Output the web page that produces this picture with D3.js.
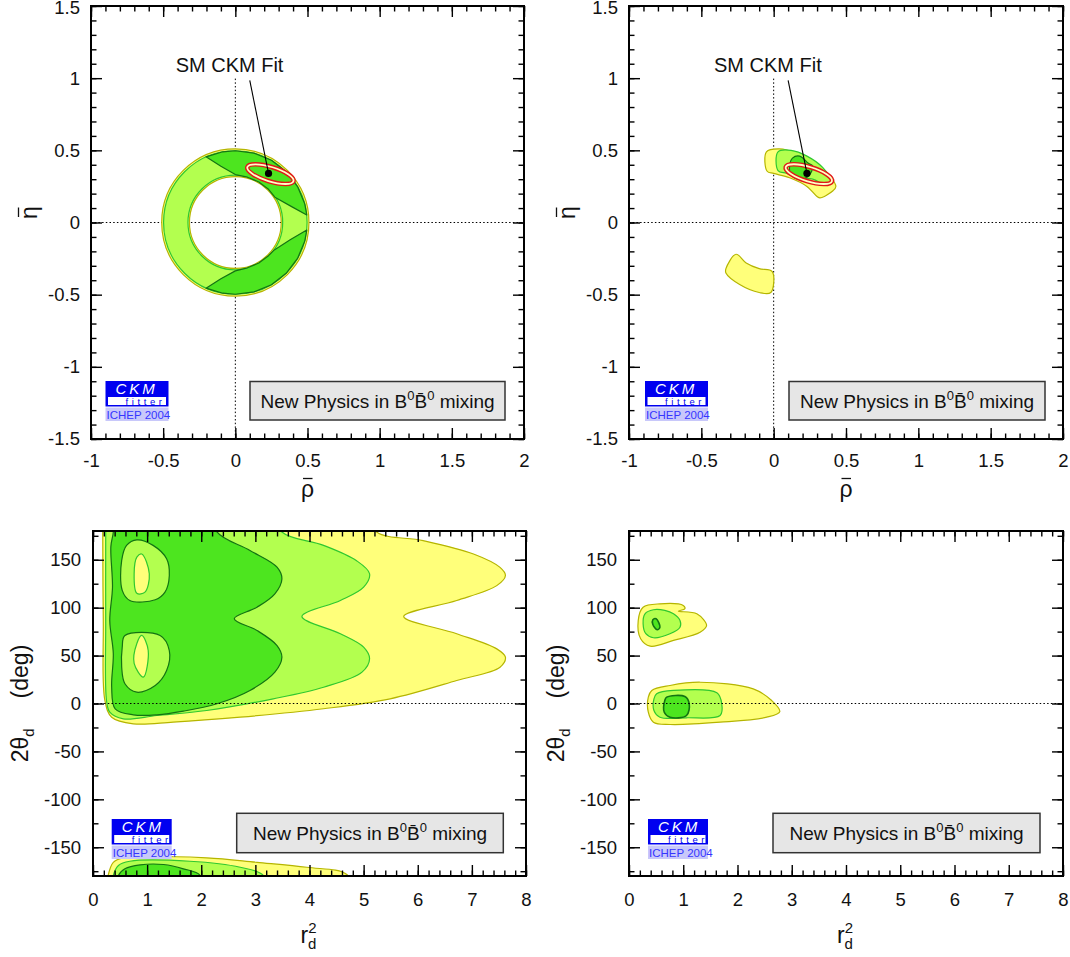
<!DOCTYPE html>
<html>
<head>
<meta charset="utf-8">
<script src="https://cdn.jsdelivr.net/npm/d3@7"></script>
<style>
    body { margin: 0; background: #fff; }
    svg text { font-family: "Liberation Sans", Arial, Helvetica, sans-serif; }
</style>
</head>
<body>
<div id="chart"></div>
<script>
// ---------------------------------- data ------------------------------------
const rhoTicks = [-1, -0.5, 0, 0.5, 1, 1.5, 2];
const etaTicks = [-1.5, -1, -0.5, 0, 0.5, 1, 1.5];
const r2Ticks = [0, 1, 2, 3, 4, 5, 6, 7, 8];
const thetaTicks = [-150, -100, -50, 0, 50, 100, 150];

// SM fit point, its 1/2 sigma ellipse and the label
const smFitPoint = [0.23, 0.34];
const smFitEllipse = {rho: 0.243, eta: 0.335, a: 0.167, b: 0.05, angle: 17};
const smLabelPos = [-0.04, 1.046];
const smLineStart = [0.10, 0.985];

// top left: rho-eta, ring from |Vub/Vcb| + dm
const ringYellow = {inner: 0.318, outer: 0.51};
const ringLightGreen = {inner: 0.328, outer: 0.497};
const ringUpperDark = [
    [-0.203, 0.455], [-0.087, 0.49], [0, 0.497], [0.129, 0.481], [0.25, 0.431], [0.352, 0.352],
    [0.431, 0.249], [0.481, 0.129], [0.495, 0.052], [0.39, 0.11], [0.274, 0.175], [0.230, 0.230],
    [0.1625, 0.281], [0.084, 0.314], [0, 0.332], [-0.1, 0.39]
];
const ringLowerDark = [
    [0.495, -0.052], [0.481, -0.129], [0.431, -0.249], [0.352, -0.352], [0.25, -0.431], [0.129, -0.481],
    [0, -0.497], [-0.087, -0.49], [-0.203, -0.455], [-0.1, -0.39], [0, -0.335], [0.084, -0.314],
    [0.1625, -0.281], [0.23, -0.23], [0.27, -0.19], [0.38, -0.12]
];

// top right: rho-eta with all constraints
const trUpperYellow = [
    [-0.05, 0.49], [0.04, 0.51], [0.157, 0.48], [0.30, 0.40], [0.39, 0.32], [0.43, 0.25], [0.41, 0.22],
    [0.32, 0.17], [0.30, 0.18], [0.23, 0.25], [0.11, 0.31], [0.0, 0.34], [-0.045, 0.355]
];
const trUpperLight = [
    [0.03, 0.49], [0.12, 0.50], [0.23, 0.46], [0.34, 0.38], [0.40, 0.28], [0.365, 0.26], [0.27, 0.30],
    [0.18, 0.31], [0.09, 0.34], [0.03, 0.36]
];
const trUpperDark = [
    [0.13, 0.446], [0.18, 0.46], [0.24, 0.41], [0.27, 0.39], [0.24, 0.32], [0.18, 0.30], [0.12, 0.33], [0.11, 0.39]
];
const trLowerYellow = [
    [-0.26, -0.22], [-0.19, -0.28], [-0.10, -0.32], [-0.01, -0.34], [-0.02, -0.485], [-0.10, -0.485],
    [-0.235, -0.43], [-0.33, -0.35], [-0.33, -0.32]
];

// bottom left: r_d^2 vs 2theta_d, ring constraint only
const blYellow = [
    [5.24, 179], [6.1, 170], [7.03, 156], [7.52, 142], [7.62, 133.6], [7.46, 123], [6.72, 107.5], [5.74, 90.8],
    [6.72, 72.8], [7.46, 57], [7.62, 48.3], [7.52, 37.9], [6.72, 24], [5.49, 4.9], [4.26, -5.5], [2.72, -14.3],
    [1.48, -19.5], [0.745, -21.2], [0.345, -14.3], [0.22, 3.1], [0.19, 86.6], [0.18, 179], [0.18, 205], [5.0, 205]
];
const blLight = [
    [3.49, 179], [4.26, 165], [4.87, 149], [5.11, 135.4], [5.0, 121.4], [4.57, 107.5], [3.86, 90.8], [4.57, 72.8],
    [5.0, 58.8], [5.11, 46.7], [4.97, 32.7], [4.26, 17], [3.33, 4.9], [2.10, -7.3], [1.18, -12.5], [0.56, -16],
    [0.31, -9.1], [0.25, 3.1], [0.235, 86.6], [0.235, 179], [0.235, 205], [3.3, 205]
];
const blDark = [
    [2.29, 179], [2.90, 159.7], [3.40, 142.3], [3.49, 130], [3.36, 114.5], [3.03, 100.5], [2.61, 88.4],
    [3.03, 76.2], [3.40, 60.5], [3.49, 48.3], [3.36, 32.7], [2.90, 13.6], [2.29, -0.3], [1.67, -8],
    [1.18, -11.8], [0.745, -11.8], [0.41, -5.5], [0.345, 17], [0.375, 51.9], [0.31, 86.6], [0.36, 121.4],
    [0.33, 163.7], [0.375, 179], [0.375, 205], [2.2, 205]
];
const blIslandUpper = [
    [0.81, 170.7], [1.11, 165], [1.36, 151], [1.41, 133.6], [1.33, 116.2], [1.15, 108.2], [0.68, 107.5],
    [0.54, 118], [0.53, 149.3], [0.62, 165]
];
const blIslandLower = [
    [0.59, 71], [1.24, 71], [1.41, 55.3], [1.36, 34.4], [1.15, 18.8], [0.81, 11.8], [0.59, 20.6], [0.53, 38], [0.54, 58.8]
];
const blCoreUpper = [[0.90, 156], [1.04, 135.4], [0.96, 116.2], [0.81, 115], [0.76, 135.4], [0.81, 152.7]];
const blCoreLower = [[0.90, 71], [1.02, 55.3], [0.93, 27.5], [0.76, 41.8], [0.81, 62.6]];
const blWrapYellow = [
    [0.28, -179.5], [0.375, -165.7], [0.56, -161], [2.10, -161], [3.03, -165.7], [3.95, -170.9], [4.69, -178.5],
    [4.8, -200], [0.25, -200]
];
const blWrapLight = [
    [0.375, -179.5], [0.47, -169], [0.68, -164.6], [1.79, -164.6], [2.72, -170.9], [3.15, -179.5], [3.2, -200], [0.35, -200]
];
const blWrapDark = [
    [0.47, -179.5], [0.59, -172.5], [0.87, -168.4], [1.30, -168], [1.67, -172.5], [1.98, -179.5], [2.0, -200], [0.45, -200]
];

// bottom right: r_d^2 vs 2theta_d with all constraints
const brUpperYellow = [
    [0.26, 100.5], [0.57, 104], [1.0, 102.3], [1.03, 98.8], [0.91, 96.4], [1.25, 93.6], [1.43, 81.4],
    [1.31, 74.4], [0.82, 65.8], [0.39, 59.8], [0.215, 67.5], [0.17, 86.6]
];
const brUpperLight = [
    [0.295, 93.6], [0.45, 97.8], [0.66, 97.1], [0.82, 93.6], [0.94, 86.6], [0.94, 79.6], [0.755, 72.8],
    [0.45, 68.6], [0.31, 72.8], [0.26, 83.2]
];
const brUpperDark = [[0.44, 87.4], [0.50, 88.4], [0.57, 79.6], [0.52, 76.9], [0.44, 82.5]];
const brLowerYellow = [
    [0.42, 13.6], [0.756, 18.8], [1.31, 22.2], [2.29, 15.3], [2.63, 3.1], [2.78, -8.4], [2.54, -14.3],
    [1.68, -19.5], [0.756, -21.9], [0.45, -19.5], [0.356, -9.1], [0.356, 6.6]
];
const brLowerLight = [
    [0.51, 10.1], [0.82, 13.6], [1.62, 11.2], [1.71, -0.3], [1.68, -12.5], [1.06, -14.9], [0.57, -14.3],
    [0.46, -7.3], [0.46, 4.9]
];
const brLowerDark = [
    [0.695, 6.6], [1.03, 7.3], [1.11, -0.3], [1.06, -12.5], [0.756, -14.3], [0.65, -9.1], [0.66, 3.1]
];

// ---------------------------------- style ------------------------------------
const COL = {
    yellowFill: "#ffff7a", yellowLine: "#b5b500",
    lightFill: "#b3ff4f", lightLine: "#2fc82f",
    darkFill: "#4de51f", darkLine: "#137313"
};
const TICK_FONT = 18.5;
const TITLE_FONT = 23;

const svg = d3.select("#chart")
    .append("svg")
    .attr("width", 1070)
    .attr("height", 957);

const smooth = d3.curveCatmullRomClosed.alpha(0.5);

function createPanel(id, left, top, width, height, xDomain, yDomain) {
    const x = d3.scaleLinear().domain(xDomain).range([0, width]);
    const y = d3.scaleLinear().domain(yDomain).range([height, 0]);
    const g = svg.append("g").attr("transform", `translate(${left},${top})`);
    g.append("clipPath").attr("id", id)
        .append("rect").attr("width", width).attr("height", height);
    const back = g.append("g");
    const plot = g.append("g").attr("clip-path", `url(#${id})`);
    return {g, back, plot, x, y, width, height, top};
}

function region(p, pts, fill, stroke, sw = 1.2, curve = smooth) {
    const line = d3.line().x(d => p.x(d[0])).y(d => p.y(d[1])).curve(curve);
    p.plot.append("path")
        .datum(pts)
        .attr("d", line)
        .attr("fill", fill)
        .attr("stroke", stroke)
        .attr("stroke-width", sw)
        .attr("stroke-linejoin", "round");
}

function dottedLines(p, layer, vertical, vTop) {
    const [x0, x1] = p.x.domain();
    const [y0] = p.y.domain();
    layer.append("line")
        .attr("x1", p.x(x0)).attr("x2", p.x(x1))
        .attr("y1", p.y(0)).attr("y2", p.y(0))
        .attr("stroke", "#000").attr("stroke-width", 1).attr("stroke-dasharray", "1.5,2.2");
    if (vertical) {
        layer.append("line")
            .attr("x1", p.x(0)).attr("x2", p.x(0))
            .attr("y1", p.y(y0)).attr("y2", p.y(vTop))
            .attr("stroke", "#000").attr("stroke-width", 1).attr("stroke-dasharray", "1.5,2.2");
    }
}

function styleAxis(sel) {
    sel.select(".domain").remove();
    sel.selectAll(".tick line").attr("stroke", "#000").attr("stroke-width", 1.4);
    sel.selectAll("text")
        .attr("fill", "#111")
        .style("font-size", TICK_FONT + "px")
        .style("font-family", "\"Liberation Sans\", Arial, sans-serif");
}

function drawAxes(p, xMajor, xMinor, yMajor, yMinor, xPad, yPad) {
    const fmt = d => String(d);
    const {g, x, y, width, height} = p;
    // bottom
    g.append("g").attr("transform", `translate(0,${height})`)
        .call(d3.axisBottom(x).tickValues(xMinor).tickSize(-5.5).tickFormat(""))
        .call(styleAxis);
    g.append("g").attr("transform", `translate(0,${height})`)
        .call(d3.axisBottom(x).tickValues(xMajor).tickSize(-11).tickPadding(xPad).tickFormat(fmt))
        .call(styleAxis);
    // top
    g.append("g")
        .call(d3.axisTop(x).tickValues(xMinor).tickSize(-5.5).tickFormat(""))
        .call(styleAxis);
    g.append("g")
        .call(d3.axisTop(x).tickValues(xMajor).tickSize(-11).tickFormat(""))
        .call(styleAxis);
    // left
    g.append("g")
        .call(d3.axisLeft(y).tickValues(yMinor).tickSize(-5.5).tickFormat(""))
        .call(styleAxis);
    const yAxis = g.append("g")
        .call(d3.axisLeft(y).tickValues(yMajor).tickSize(-11).tickPadding(yPad).tickFormat(fmt))
        .call(styleAxis);
    // keep a label sitting on the top frame inside the page
    yAxis.selectAll(".tick text")
        .filter(d => p.top + y(d) < 10)
        .attr("dy", "0.42em");
    // right
    g.append("g").attr("transform", `translate(${width},0)`)
        .call(d3.axisRight(y).tickValues(yMinor).tickSize(-5.5).tickFormat(""))
        .call(styleAxis);
    g.append("g").attr("transform", `translate(${width},0)`)
        .call(d3.axisRight(y).tickValues(yMajor).tickSize(-11).tickFormat(""))
        .call(styleAxis);

    g.append("rect")
        .attr("width", width).attr("height", height)
        .attr("fill", "none").attr("stroke", "#000").attr("stroke-width", 2);
}

function drawLogo(g, lx, ly, w) {
    const logo = g.append("g").attr("transform", `translate(${lx},${ly})`);
    logo.append("rect").attr("width", w).attr("height", 25.5).attr("fill", "#0000f0");
    logo.append("rect").attr("x", 2.5).attr("y", 16).attr("width", w - 5).attr("height", 8).attr("fill", "#fff");
    logo.append("text").attr("x", 10).attr("y", 13.2)
        .attr("fill", "#fff").style("font-size", "15px").style("font-style", "italic")
        .style("letter-spacing", "3px").text("CKM");
    logo.append("text").attr("x", 20).attr("y", 23.5)
        .attr("fill", "#0000f0").style("font-size", "9.5px")
        .style("letter-spacing", "3.6px").text("fitter");
    logo.append("rect").attr("y", 26.5).attr("width", w).attr("height", 13.5).attr("fill", "#c8c8fa");
    logo.append("text").attr("x", 1).attr("y", 37.8)
        .attr("fill", "#3535ff").style("font-size", "11.5px").text("ICHEP 2004");
}

function drawNpBox(g, bx, by, w, h) {
    g.append("rect")
        .attr("x", bx).attr("y", by).attr("width", w).attr("height", h)
        .attr("fill", "#e6e6e6").attr("stroke", "#333").attr("stroke-width", 1.5);
    const t = g.append("text")
        .attr("x", bx + w / 2).attr("y", by + h / 2 + 7)
        .attr("text-anchor", "middle")
        .attr("fill", "#111")
        .style("font-size", "19px");
    t.append("tspan").text("New Physics in B");
    t.append("tspan").attr("dy", -8).style("font-size", "13px").text("0");
    t.append("tspan").attr("dy", 8).text("B\u0304");
    t.append("tspan").attr("dy", -8).style("font-size", "13px").text("0");
    t.append("tspan").attr("dy", 8).text(" mixing");
}

function drawSmFit(p) {
    const e = smFitEllipse;
    const cx = p.x(e.rho), cy = p.y(e.eta);
    const rx = p.x(e.rho + e.a) - cx, ry = cy - p.y(e.eta + e.b);
    [["#e01818", 4.6], ["#ffffc4", 1.8]].forEach(([c, w]) => {
        p.plot.append("ellipse")
            .attr("cx", cx).attr("cy", cy).attr("rx", rx).attr("ry", ry)
            .attr("transform", `rotate(${e.angle},${cx},${cy})`)
            .attr("fill", "none").attr("stroke", c).attr("stroke-width", w);
    });
    p.g.append("line")
        .attr("x1", p.x(smLineStart[0])).attr("y1", p.y(smLineStart[1]))
        .attr("x2", p.x(smFitPoint[0])).attr("y2", p.y(smFitPoint[1]))
        .attr("stroke", "#000").attr("stroke-width", 1.1);
    p.g.append("circle")
        .attr("cx", p.x(smFitPoint[0])).attr("cy", p.y(smFitPoint[1])).attr("r", 3.6)
        .attr("fill", "#000");
    p.g.append("text")
        .attr("x", p.x(smLabelPos[0])).attr("y", p.y(smLabelPos[1]))
        .attr("text-anchor", "middle").attr("fill", "#111")
        .style("font-size", "20px").text("SM CKM Fit");
}

// greek letter with a bar on top, drawn in a local frame (baseline at y = 0)
function barredSymbol(g, transform, glyph) {
    const s = g.append("g").attr("transform", transform);
    s.append("text")
        .attr("text-anchor", "middle").attr("fill", "#111")
        .style("font-size", TITLE_FONT + "px").text(glyph);
    s.append("line")
        .attr("x1", -4.5).attr("x2", 5).attr("y1", -18.5).attr("y2", -18.5)
        .attr("stroke", "#111").attr("stroke-width", 1.3);
}

function rhoEtaTitles(p) {
    barredSymbol(p.g, `translate(${p.width / 2},491)`, "\u03c1");
    barredSymbol(p.g, `translate(-54,206.5) rotate(-90)`, "\u03b7");
}

function r2ThetaTitles(p) {
    const tx = p.g.append("text")
        .attr("x", p.width / 2 - 9).attr("y", 412)
        .attr("fill", "#111")
        .style("font-size", TITLE_FONT + "px");
    tx.append("tspan").text("r");
    tx.append("tspan").attr("dy", -10).style("font-size", "15px").text("2");
    tx.append("tspan").attr("dx", -8.5).attr("dy", 16).style("font-size", "15px").text("d");
    const ty = p.g.append("text")
        .attr("transform", `translate(-65,${p.height / 2}) rotate(-90)`)
        .attr("text-anchor", "middle").attr("fill", "#111")
        .style("font-size", TITLE_FONT + "px");
    ty.append("tspan").text("2\u03b8");
    ty.append("tspan").attr("dy", 6).style("font-size", "15px").text("d");
    ty.append("tspan").attr("dy", -6).attr("dx", 30).text("(deg)");
}

const rhoMinor = d3.range(-10, 21).map(i => i / 10);
const etaMinor = d3.range(-15, 16).map(i => i / 10);
const r2Minor = d3.range(0, 41).map(i => i / 5);
const thetaMinor = d3.range(-7, 8).map(i => i * 25);

// ---------------------------------- top left ------------------------------------
const p1 = createPanel("clip1", 91, 6, 433, 433, [-1, 2], [-1.5, 1.5]);
dottedLines(p1, p1.back, true, 1.0);
{
    const cx = p1.x(0), cy = p1.y(0), k = p1.x(1) - p1.x(0);
    [[ringYellow, COL.yellowFill, COL.yellowLine], [ringLightGreen, COL.lightFill, COL.lightLine]]
        .forEach(([r, fill, stroke]) => {
            p1.plot.append("path")
                .attr("transform", `translate(${cx},${cy})`)
                .attr("d", d3.arc()({innerRadius: r.inner * k, outerRadius: r.outer * k,
                    startAngle: 0, endAngle: 2 * Math.PI}))
                .attr("fill", fill).attr("stroke", stroke).attr("stroke-width", 1.2);
        });
}
region(p1, ringUpperDark, COL.darkFill, COL.darkLine, 1.2, d3.curveLinearClosed);
region(p1, ringLowerDark, COL.darkFill, COL.darkLine, 1.2, d3.curveLinearClosed);
drawSmFit(p1);
drawAxes(p1, rhoTicks, rhoMinor, etaTicks, etaMinor, 15, 11);
drawLogo(p1.g, 14.5, 375, 63);
drawNpBox(p1.g, 159, 375.5, 255, 38.5);
rhoEtaTitles(p1);

// ---------------------------------- top right ------------------------------------
const p2 = createPanel("clip2", 629, 6, 434, 433, [-1, 2], [-1.5, 1.5]);
dottedLines(p2, p2.back, true, 1.0);
region(p2, trLowerYellow, COL.yellowFill, COL.yellowLine);
region(p2, trUpperYellow, COL.yellowFill, COL.yellowLine);
region(p2, trUpperLight, COL.lightFill, COL.lightLine);
region(p2, trUpperDark, COL.darkFill, COL.darkLine);
drawSmFit(p2);
drawAxes(p2, rhoTicks, rhoMinor, etaTicks, etaMinor, 15, 11);
drawLogo(p2.g, 16, 375, 63);
drawNpBox(p2.g, 160, 375.5, 256, 38.5);
rhoEtaTitles(p2);

// ---------------------------------- bottom left ------------------------------------
const p3 = createPanel("clip3", 93, 531, 433, 345, [0, 8], [-180, 180]);
region(p3, blYellow, COL.yellowFill, COL.yellowLine);
region(p3, blLight, COL.lightFill, COL.lightLine);
region(p3, blDark, COL.darkFill, COL.darkLine);
region(p3, blIslandUpper, COL.lightFill, COL.darkLine);
region(p3, blIslandLower, COL.lightFill, COL.darkLine);
region(p3, blCoreUpper, COL.yellowFill, COL.lightLine);
region(p3, blCoreLower, COL.yellowFill, COL.lightLine);
region(p3, blWrapYellow, COL.yellowFill, COL.yellowLine);
region(p3, blWrapLight, COL.lightFill, COL.lightLine);
region(p3, blWrapDark, COL.darkFill, COL.darkLine);
dottedLines(p3, p3.plot, false);
drawAxes(p3, r2Ticks, r2Minor, thetaTicks, thetaMinor, 17, 12);
drawLogo(p3.g, 18.7, 288, 60);
drawNpBox(p3.g, 143.7, 282.3, 266.6, 39.4);
r2ThetaTitles(p3);

// ---------------------------------- bottom right ------------------------------------
const p4 = createPanel("clip4", 629, 531, 434, 345, [0, 8], [-180, 180]);
region(p4, brUpperYellow, COL.yellowFill, COL.yellowLine);
region(p4, brUpperLight, COL.lightFill, COL.lightLine);
region(p4, brUpperDark, COL.darkFill, COL.darkLine, 1.6);
region(p4, brLowerYellow, COL.yellowFill, COL.yellowLine);
region(p4, brLowerLight, COL.lightFill, COL.lightLine);
region(p4, brLowerDark, COL.darkFill, COL.darkLine, 1.6);
dottedLines(p4, p4.plot, false);
drawAxes(p4, r2Ticks, r2Minor, thetaTicks, thetaMinor, 17, 12);
drawLogo(p4.g, 19, 288, 60);
drawNpBox(p4.g, 144, 282.3, 267, 39.4);
r2ThetaTitles(p4);
</script>
</body>
</html>
